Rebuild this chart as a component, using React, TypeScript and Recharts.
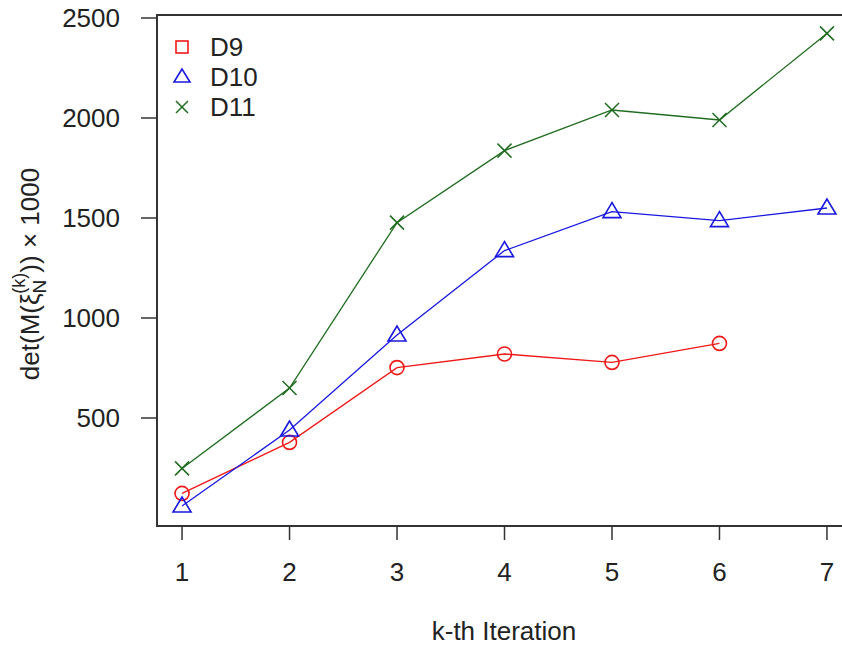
import React from 'react';
import { LineChart, Line, XAxis, YAxis, ReferenceArea, Legend, Label } from 'recharts';

const iterations = [1, 2, 3, 4, 5, 6, 7];
const d9Values = [123, 378, 752, 820, 778, 873, null];
const d10Values = [60, 440, 915, 1337, 1532, 1487, 1550];
const d11Values = [248, 650, 1477, 1837, 2040, 1990, 2423];
const xTicks = [1, 2, 3, 4, 5, 6, 7];
const yTicks = [500, 1000, 1500, 2000, 2500];
const seriesNames = ['D9', 'D10', 'D11'];

const data = iterations.map((k, i) => ({ k, d9: d9Values[i], d10: d10Values[i], d11: d11Values[i] }));

const FONT = '"Liberation Sans", Arial, Helvetica, sans-serif';
const TEXT = '#222';
const RED = '#f01818';
const BLUE = '#1818e0';
const GREEN = '#1f6b1f';
const FS = 26;
const X_DOMAIN: [number, number] = [0.767, 7.233];
const Y_DOMAIN: [number, number] = [-40, 2515];

const circleDot = (p: any) => {
  if (p.cx == null || p.cy == null || p.value == null) return <g key={p.key ?? p.index} />;
  return <circle key={p.key ?? p.index} cx={p.cx} cy={p.cy} r={7} fill="none" stroke={RED} strokeWidth={1.6} />;
};
const triDot = (p: any) => {
  if (p.cx == null || p.cy == null) return <g key={p.key ?? p.index} />;
  const { cx, cy } = p;
  return (
    <polygon key={p.key ?? p.index} points={`${cx},${cy - 9} ${cx - 9},${cy + 6} ${cx + 9},${cy + 6}`} fill="none" stroke={BLUE} strokeWidth={1.6} />
  );
};
const crossDot = (p: any) => {
  if (p.cx == null || p.cy == null) return <g key={p.key ?? p.index} />;
  const { cx, cy } = p;
  return (
    <g key={p.key ?? p.index} stroke={GREEN} strokeWidth={1.5}>
      <line x1={cx - 7} y1={cy - 7} x2={cx + 7} y2={cy + 7} />
      <line x1={cx - 7} y1={cy + 7} x2={cx + 7} y2={cy - 7} />
    </g>
  );
};

const LegendContent = () => (
  <svg width={130} height={95} style={{ display: 'block' }}>
    <rect x={11} y={11} width={12} height={12} fill="none" stroke={RED} strokeWidth={1.6} />
    <polygon points="17,39 9,52 25,52" fill="none" stroke={BLUE} strokeWidth={1.6} />
    <g stroke={GREEN} strokeWidth={1.5}>
      <line x1={11} y1={71} x2={23} y2={83} />
      <line x1={11} y1={83} x2={23} y2={71} />
    </g>
    {seriesNames.map((n, i) => (
      <text key={n} x={45} y={17 + i * 30} dy="0.36em" fontSize={FS} fill={TEXT} fontFamily={FONT}>
        {n}
      </text>
    ))}
  </svg>
);

const YTitle = () => (
  <text x={30} y={274} transform="rotate(-90 30 274)" textAnchor="middle" dy="0.35em" fontSize={FS} fill={TEXT} fontFamily={FONT}>
    det(M(ξ
    <tspan dy={7} fontSize={19}>N</tspan>
    <tspan dx={-14} dy={-21} fontSize={18}>(k)</tspan>
    <tspan dy={14}>))</tspan>
    {' × 1000'}
  </text>
);

const XTitle = () => (
  <text x={504} y={640} textAnchor="middle" fontSize={FS} fill={TEXT} fontFamily={FONT}>
    k-th Iteration
  </text>
);

export default function App() {
  return (
    <div style={{ position: 'absolute', left: 0, top: 0, width: 842, height: 648, overflow: 'hidden', background: '#fff' }}>
      <LineChart width={868} height={648} data={data} margin={{ top: 15, right: 16, left: 0, bottom: 0 }}>
        <XAxis
          dataKey="k"
          type="number"
          domain={X_DOMAIN}
          ticks={xTicks}
          allowDataOverflow
          axisLine={false}
          tickSize={14}
          tickMargin={23}
          height={122}
          tickLine={{ stroke: '#333', strokeWidth: 1.5 }}
          tick={{ fontSize: FS, fill: TEXT, fontFamily: FONT }}
        >
          <Label content={<XTitle />} />
        </XAxis>
        <YAxis
          type="number"
          domain={Y_DOMAIN}
          ticks={yTicks}
          allowDataOverflow
          axisLine={false}
          tickSize={16}
          tickMargin={21}
          width={157}
          tickLine={{ stroke: '#333', strokeWidth: 1.5 }}
          tick={{ fontSize: FS, fill: TEXT, fontFamily: FONT }}
        >
          <Label content={<YTitle />} />
        </YAxis>
        <ReferenceArea x1={X_DOMAIN[0]} x2={X_DOMAIN[1]} y1={Y_DOMAIN[0]} y2={Y_DOMAIN[1]} fill="none" fillOpacity={0} stroke="#333" strokeWidth={2} ifOverflow="visible" />
        <Line dataKey="d9" stroke={RED} strokeWidth={1.3} dot={circleDot} isAnimationActive={false} connectNulls={false} />
        <Line dataKey="d10" stroke={BLUE} strokeWidth={1.3} dot={triDot} isAnimationActive={false} />
        <Line dataKey="d11" stroke={GREEN} strokeWidth={1.3} dot={crossDot} isAnimationActive={false} />
        <Legend
          layout="vertical"
          align="center"
          verticalAlign="middle"
          content={<LegendContent />}
          wrapperStyle={{ position: 'absolute', left: 165, top: 30, width: 130, height: 95 }}
        />
      </LineChart>
    </div>
  );
}
